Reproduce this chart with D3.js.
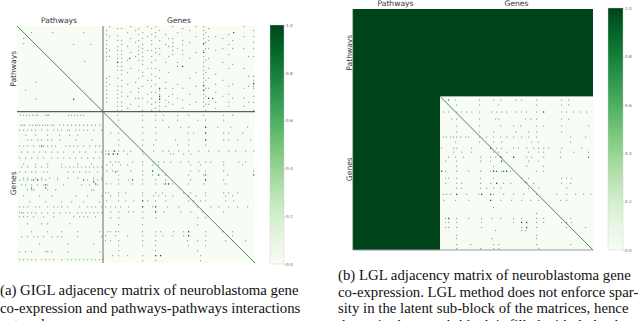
<!DOCTYPE html>
<html>
<head>
<meta charset="utf-8">
<script src="https://cdn.jsdelivr.net/npm/d3@7"></script>
<style>
  html, body { margin: 0; padding: 0; background: #fff; overflow: hidden; }
  svg { display: block; }
</style>
</head>
<body>
<div id="chart"></div>
<script>
// matrix size and where the pathways block ends
const giglSize = 238, giglSplit = 86;
const lglSize = 240, lglSplit = 87;

const barTicks = [0, 0.2, 0.4, 0.6, 0.8, 1.0];
const blockLabels = ['Pathways', 'Genes'];

const captionA = ['(a) GIGL adjacency matrix of neuroblastoma gene',
  'co-expression and pathways-pathways interactions', 'network.'];
const captionB = ['(b) LGL adjacency matrix of neuroblastoma gene',
  'co-expression. LGL method does not enforce spar-',
  'sity in the latent sub-block of the matrices, hence',
  'the entire latent sub-block is filled with dark edges'];

// edge weights used for the read-off cells
const weightFaint = 0.42, weightDark = 0.85;

// GIGL pathways-genes, each line is [col, rows...]
const giglPathGene = [
  [89,4,8,14,18,22,26,30,34,52,56,60,64,68,72,76],
  [92,0,10,24,30,50,58],
  [100,2,9,14,20,24,28,32,36,40,44,52,60,64,68,72,76,80,84],
  [104,2,14,18,24,28,32,36,40,44,48,54,60,66,70,76,80,84],
  [110,6,20,34,46,58,70,82],
  [113,0,12,26,42,66,78],
  [118,4,16,30,56,72],
  [121,2,8,14,20,24,28,34,44,52,62,66,72,80],
  [125,6,12,18,22,26,30,34,38,46,50,60,72,84],
  [130,0,10,24,42,54,68,76],
  [134,2,8,14,18,24,30,36,42,48,54,60,66,72,78,84],
  [138,0,6,10,22,26,34,42,50,58,66,76,82],
  [142,4,14,22,28,44,52,64,68,72,76,80,84],
  [148,8,18,36,56,62,74,80],
  [151,12,20,30,46,70,76],
  [155,0,12,16,20,24,28,62,68,78],
  [160,6,22,36,40,58,72],
  [165,2,14,18,24,28,40,62,74,82],
  [172,4,16,32,52,68,78],
  [178,0,10,26,46,60,76],
  [186,0,4,8,12,18,24,30,36,40,44,48,52,56,60,64,68,72,76,80],
  [188,6,16,22,34,46,54,62,70,78,84],
  [191,2,10,14,22,32,42,52,62,72,78],
  [198,10,24,48,58,66,76,82],
  [205,12,22,36,54,70],
  [211,8,18,28,42,60,68,76,80],
  [215,14,22,38,58,72],
  [226,0,10,22,42,62,72,80],
  [231,30,50,60,76],
  [236,4,10,16,22,30,50,54,58,60,62,70,76,84]
];

// GIGL pathways-pathways and the two gene rows, each line is [row, cols...]
const giglPathPath = [
  [6,14,35,66], [12,6], [17,6], [18,56,73], [35,67], [56,18], [64,8], [73,18,56,73]
];

const giglGenePath = [
  [89,3,6,9,12,15,18,20,28,30,31,51,54,57,60,63,66],
  [99,3,5,7,12,15,18,20,22,25,28,30,34,36,42,46,50,54,58,62,66,70,74,78,82],
  [104,2,6,10,14,18,24,30,36,40,44,50,52,58,62,66,70,76,84],
  [109,8,18,30,42,52,60],
  [114,10,14,20,24,30,34,42,58,74],
  [120,2,6,10,16,22,26,30,34,38,48,52,56,60,66,72,78,82],
  [126,4,10,16,22,28,34,40,46,56,62,68,78,84],
  [132,2,8,14,20,26,34,40,46,52,58,64,70,76,82],
  [138,6,18,30,44,60,74],
  [141,4,10,18,24,30,44,48,52,56,60,64,68,72,76,80,84],
  [146,2,8,14,18,26,30,50,56,62,68,72,80],
  [152,6,10,18,24,32,40,50,60,76,84],
  [154,2,6,10,14,20,24,28,40,70,76,80,84],
  [159,4,8,14,20,26,30,46,64,72,80],
  [164,10,14,16,30,38,74,76],
  [170,6,22,34,58,70,84],
  [176,12,28,44,54,66,82],
  [181,2,6,10,18,22,30,36,40,44,50,62,70,74,78,84],
  [187,2,4,6,10,14,18,24,30,36,42,48,52,60,64,68,72,76,80,84],
  [191,2,6,10,16,26,36,56,62,66,70,78],
  [198,10,24,30,52],
  [206,14,30,44,60,82],
  [211,4,10,16,20,26,34,40,44,60,84],
  [218,22,50,76],
  [226,2,8,14,28,30,34,50,82],
  [234,2,6,10,14,18,24,28,32,36,44,50,54,58,62,66,70,74,78,82,85]
];

const giglGeneGene = [
  [89,100,125,138,146,160,171,186,206,215],
  [94,101,125,138,145,160,180,188,206],
  [101,125,138,151,163,171,188,200,213,230],
  [107,93,101,125,138,170,176,188,206,211,225],
  [114,101,125,138,158,171,188,206,211,220,233],
  [119,101,125,136,160,171,188],
  [125,88,91,96,101,106,113,125,136,145,151,161,171,181,191,201,211,218,228,236],
  [128,88,91,95,100,110,125,153,156,166,173],
  [136,93,98,101,115,125,136,141,146,153,163,171,181,188,193,206,221,228],
  [139,89,95,103,110,125,135,141,173,183,206,225],
  [145,89,95,100,113,125,135,145,173,181,188,206,236],
  [149,101,125,135,141,148,171,186,210],
  [154,101,111,125,138,148,173,188,206],
  [158,89,93,101,115,125,138,146,151,155,171,186,208],
  [167,88,91,101,108,125,138,145,166,173,188,206,211,220],
  [170,93,101,125,136,141,148,155,171,178,188,208,215],
  [175,89,101,108,116,125,130,138,148,171,176,183,188,208,216],
  [181,88,93,98,103,111,125,135,138,150,161,180,193,201,211,220,230],
  [186,93,101,111,116,125,138,146,163,173,185,206],
  [192,93,101,125,138,180,188],
  [199,101,125,180],
  [206,90,93,98,101,125,138,143,156,166,171,188,205,215],
  [210,88,98,110,125,138,145,155,166,171,188,210,215],
  [215,88,93,101,125,138,170,180,188,208,215,228],
  [220,101,125,138,171,188],
  [225,101,138,180],
  [230,95,101,110,125,138,143,183],
  [235,125,138,183]
];

// strongest GIGL edges, [row, col]
const giglDark = [
  [6,216],[70,142],[73,142],[40,165],[17,186],[26,186],[59,186],[64,186],[72,191],[72,195],
  [36,100],[32,112],[57,236],[62,142],[73,56],
  [154,16],[154,20],[159,28],[162,14],[154,66],[156,76],[158,78],[162,28],[120,24],
  [128,91],[128,96],[128,100],[149,141],[145,135],[158,148],[158,151],[154,115],[146,98],
  [230,138],[230,143],[149,236],[101,188],[107,188],[114,188],[154,188],[149,188],
  [181,138],[186,138],[206,171],[210,171],[181,125],[175,125],[125,97]
];

// LGL genes-genes, each line is [row, cols...]
const lglGeneGene = [
  [90,102,126,140,147,162,168,183,208,215],
  [95,103,126,145,183,208,215],
  [102,90,95,103,108,113,118,126,138,143,148,153,162,168,173,183,190,208,213,220,227,233],
  [109,98,103,126,142,145,172,177,183,208,215],
  [116,103,126,147,160,167,183,190,208,235],
  [122,103,126,140,162,175,183,208],
  [127,90,93,97,100,103,107,112,115,126,133,140,147,153,160,168,175,183,217,232],
  [132,102,126,140,148,178,185,217],
  [138,88,100,103,118,137,143,148,160,165,173,180,185,190,195,208,228],
  [142,100,108,118,140,145,153,175,185,190,207,220,235],
  [147,95,102,110,127,137,142,148,160,173,178,190,207],
  [151,92,103,127,137,148,175,185],
  [156,103,140,173,190],
  [161,88,92,103,115,127,137,140,148,153,157,183,190],
  [168,92,95,103,127,140,168,175,208,213,218],
  [173,92,103,108,127,137,143,150,157,173,180,208,217],
  [178,103,108,127,133,140,147,175,185,213],
  [184,90,93,97,103,113,125,128,137,140,150,160,170,183,203,213,222,230,237],
  [190,90,102,115,137,147,158,168,177,185,207,213],
  [197,140],
  [203,183],
  [208,92,95,103,115,128,138,147,160,168,183,190,208,217],
  [212,92,95,103,128,160,168,173,183,190,208,213,218],
  [217,92,95,103,128,168,173,183,213,232],
  [220,142,168,172],
  [225,103,183],
  [228,103,138,183],
  [234,103,117,140,145,183,217],
  [238,103,127,140,145,185]
];

const lglDark = [
  [138,137],[147,147],[151,148],[161,140],[161,143],[161,150],[161,153],[147,160],[173,143],
  [184,137],[184,128],[190,137],[212,173],[217,173],[212,168],[208,95],[147,235],[184,103],
  [90,95],[102,190],[161,88],[172,172]
];

const greens = d3.scaleSequential(d3.interpolateGreens).domain([0, 1]);

const svg = d3.select('#chart').append('svg')
  .attr('width', 640)
  .attr('height', 321)
  .attr('viewBox', '0 0 640 321');

// [row, cols...] -> flat cell list
function rowCells(list, v) {
  return list.flatMap(r => r.slice(1).map(c => ({ row: r[0], col: c, v: v })));
}
// [col, rows...] -> flat cell list
function colCells(list, v) {
  return list.flatMap(r => r.slice(1).map(c => ({ row: c, col: r[0], v: v })));
}
function darkCells(list) {
  return list.map(d => ({ row: d[0], col: d[1], v: weightDark }));
}

function drawMatrix(box, size, split, cells, opts) {
  const x = d3.scaleLinear().domain([0, size]).range([box.x0, box.x1]);
  const y = d3.scaleLinear().domain([0, size]).range([box.y0, box.y1]);

  // labels go first, the matrix is painted over their descenders
  const label = svg.append('g')
    .attr('font-family', '"DejaVu Sans", sans-serif')
    .attr('font-size', 7.6)
    .attr('fill', '#333');
  label.append('text').attr('x', x(split / 2) - 1).attr('y', box.y0 - 3.2)
    .attr('text-anchor', 'middle').text(blockLabels[0]);
  label.append('text').attr('x', x((split + size) / 2)).attr('y', box.y0 - 3.2)
    .attr('text-anchor', 'middle').text(blockLabels[1]);
  label.append('text')
    .attr('transform', `translate(${box.x0 - 1.5},${y(split / 2)}) rotate(-90)`)
    .attr('text-anchor', 'middle').text(blockLabels[0]);
  label.append('text')
    .attr('transform', `translate(${box.x0 - 1.5},${y((split + size) / 2) - 4}) rotate(-90)`)
    .attr('text-anchor', 'middle').text(blockLabels[1]);

  const g = svg.append('g');
  g.append('rect')
    .attr('x', x(0)).attr('y', y(0))
    .attr('width', x(size) - x(0)).attr('height', y(size) - y(0))
    .attr('fill', greens(0));

  if (opts.denseLatent) {
    // latent rows and columns are all ones
    g.append('rect').attr('x', x(0)).attr('y', y(0))
      .attr('width', x(size) - x(0)).attr('height', y(split) - y(0))
      .attr('fill', greens(1));
    g.append('rect').attr('x', x(0)).attr('y', y(0))
      .attr('width', x(split) - x(0)).attr('height', y(size) - y(0))
      .attr('fill', greens(1));
  }

  // dots were downsampled in the reference, so weight shows as fade of the dark green
  g.append('g')
    .selectAll('rect')
    .data(cells)
    .enter()
    .append('rect')
    .attr('x', d => x(d.col))
    .attr('y', d => y(d.row))
    .attr('width', 1.2)
    .attr('height', 1.2)
    .attr('fill', greens(1))
    .attr('fill-opacity', d => d.v);

  if (opts.splitLines) {
    g.append('line').attr('x1', x(split)).attr('x2', x(split))
      .attr('y1', y(0)).attr('y2', y(size))
      .attr('stroke', '#5a5f5c').attr('stroke-width', 0.9);
    g.append('line').attr('x1', x(0)).attr('x2', x(size))
      .attr('y1', y(split)).attr('y2', y(split))
      .attr('stroke', '#5a5f5c').attr('stroke-width', 1.3);
  }

  // the diagonal
  g.append('line')
    .attr('x1', x(opts.denseLatent ? split : 0)).attr('y1', y(opts.denseLatent ? split : 0))
    .attr('x2', x(size)).attr('y2', y(size))
    .attr('stroke', '#4c8a65').attr('stroke-width', 1);

  if (opts.denseLatent) {
    // grey spine left and below
    g.append('line').attr('x1', x(0) - 0.4).attr('x2', x(0) - 0.4)
      .attr('y1', y(0)).attr('y2', y(size)).attr('stroke', '#9a9a9a').attr('stroke-width', 0.8);
    g.append('line').attr('x1', x(0)).attr('x2', x(size))
      .attr('y1', y(size)).attr('y2', y(size)).attr('stroke', '#9a9a9a').attr('stroke-width', 1);
  }
}

function drawBar(box, id) {
  const y = d3.scaleLinear().domain([0, 1]).range([box.y1, box.y0]);
  const grad = svg.append('defs').append('linearGradient')
    .attr('id', id).attr('x1', 0).attr('x2', 0).attr('y1', 1).attr('y2', 0);
  d3.range(0, 1.01, 0.1).forEach(t => {
    grad.append('stop').attr('offset', t).attr('stop-color', greens(t));
  });
  svg.append('rect')
    .attr('x', box.x0).attr('y', box.y0)
    .attr('width', box.x1 - box.x0).attr('height', box.y1 - box.y0)
    .attr('fill', `url(#${id})`)
    .attr('stroke', '#ccc').attr('stroke-width', 0.4);

  const axis = d3.axisRight(y).tickValues(barTicks).tickSize(1.5).tickFormat(d3.format('.1f'));
  const a = svg.append('g')
    .attr('transform', `translate(${box.x1},0)`)
    .call(axis);
  a.select('.domain').remove();
  a.selectAll('line').attr('stroke', '#999').attr('stroke-width', 0.4);
  a.selectAll('text')
    .attr('x', 2)
    .attr('font-family', '"DejaVu Sans", sans-serif')
    .attr('font-size', 4.2)
    .attr('fill', '#666');
}

function drawCaption(lines, x, baselines) {
  svg.append('g')
    .attr('font-family', '"Liberation Serif", serif')
    .attr('font-size', 14.8)
    .attr('fill', '#111')
    .selectAll('text')
    .data(lines)
    .enter()
    .append('text')
    .attr('x', x)
    .attr('y', (d, i) => baselines[i])
    .text(d => d);
}

const giglCells = [].concat(
  colCells(giglPathGene, weightFaint),
  rowCells(giglPathPath, weightFaint),
  rowCells(giglGenePath, weightFaint),
  rowCells(giglGeneGene, weightFaint),
  darkCells(giglDark)
);
const lglCells = [].concat(rowCells(lglGeneGene, weightFaint), darkCells(lglDark));

drawMatrix({ x0: 17, x1: 255, y0: 26, y1: 263 }, giglSize, giglSplit, giglCells, { splitLines: true });
drawMatrix({ x0: 353, x1: 593, y0: 9, y1: 250 }, lglSize, lglSplit, lglCells, { denseLatent: true });

drawBar({ x0: 270, x1: 284, y0: 25, y1: 264 }, 'barA');
drawBar({ x0: 608, x1: 623, y0: 8, y1: 250 }, 'barB');

drawCaption(captionA, 0, [295, 312.5, 329]);
drawCaption(captionB, 338, [280, 296.5, 313, 330]);
</script>
</body>
</html>
